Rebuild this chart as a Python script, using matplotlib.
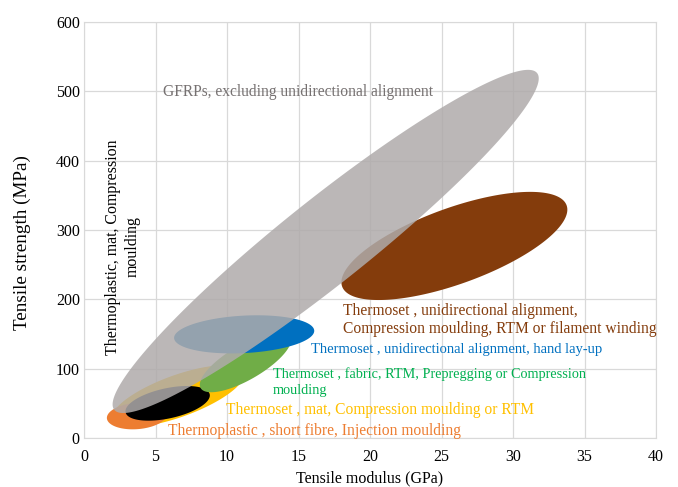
import numpy as np
import matplotlib
matplotlib.use("Agg")
import matplotlib.pyplot as plt

plt.rcParams['font.family'] = ['Liberation Serif', 'DejaVu Serif']

# each region: modulus range (GPa), strength range (MPa), modulus at max strength
names = ["Thermoset , mat, Compression moulding or RTM",
         "Thermoplastic , short fibre, Injection moulding",
         "Thermoplastic, mat, Compression moulding",
         "Thermoset , fabric, RTM, Prepregging or Compression moulding",
         "Thermoset , unidirectional alignment, hand lay-up",
         "Thermoset , unidirectional alignment, Compression moulding, RTM or filament winding",
         "GFRPs, excluding unidirectional alignment"]
modulus_lo = [1.95, 1.6, 2.9, 8.1, 6.3, 18.0, 2.0]
modulus_hi = [11.2, 5.8, 8.8, 14.5, 16.1, 33.8, 31.8]
strength_lo = [16, 12.5, 25, 66, 122, 199, 36]
strength_hi = [105, 51, 75, 153, 177, 355, 531]
modulus_at_peak = [9.8, 4.0, 7.2, 13.7, 12.1, 31.2, 31.05]
fill_colors = ["#FFC000", "#ED7D31", "#000000", "#70AD47", "#0070C0", "#843C0C", "#AFABAB"]
fill_alpha = [1, 1, 1, 1, 1, 1, 0.85]


def region_outline(xlo, xhi, ylo, yhi, xpk, n=300):
    cx, hx = (xlo + xhi) / 2.0, (xhi - xlo) / 2.0
    cy, hy = (ylo + yhi) / 2.0, (yhi - ylo) / 2.0
    phi = np.arccos(np.clip((xpk - cx) / hx, -1, 1))
    t = np.linspace(0, 2 * np.pi, n)
    return cx + hx * np.cos(t), cy + hy * np.cos(t - phi)


fig = plt.figure(figsize=(6.78, 4.87), dpi=100)
ax = fig.add_axes([84 / 678, 49 / 487, 572 / 678, 416 / 487])

for i in range(len(names)):
    xs, ys = region_outline(modulus_lo[i], modulus_hi[i], strength_lo[i],
                            strength_hi[i], modulus_at_peak[i])
    ax.fill(xs, ys, color=fill_colors[i], alpha=fill_alpha[i], lw=0, zorder=2 + i)

ax.set_xlim(0, 40)
ax.set_ylim(0, 600)
ax.set_xticks(np.arange(0, 41, 5))
ax.set_yticks(np.arange(0, 601, 100))
ax.grid(True, color="#D9D9D9", lw=0.9, zorder=0)
ax.set_axisbelow(True)
for s in ax.spines.values():
    s.set_color("#D9D9D9")
ax.tick_params(length=0, labelsize=11.5, pad=8)
ax.tick_params(axis='y', pad=3)
ax.set_xlabel("Tensile modulus (GPa)", fontsize=11.5, labelpad=4)
ax.set_ylabel("Tensile strength (MPa)", fontsize=13.8)
ax.yaxis.set_label_coords(-0.092, 0.471)

fs = 11.2
ax.text(5.5, 498.6, "GFRPs, excluding unidirectional alignment", color="#767171",
        fontsize=fs, va="center", zorder=20)
ax.text(2.73, 120, "Thermoplastic, mat, Compression\nmoulding", color="black",
        fontsize=11.4, rotation=90, va="bottom", ha="center", linespacing=1.27, zorder=20)
ax.text(18.1, 170, "Thermoset , unidirectional alignment,\nCompression moulding, RTM or filament winding",
        color="#843C0C", fontsize=fs, va="center", linespacing=1.16, zorder=20)
ax.text(15.9, 127, "Thermoset , unidirectional alignment, hand lay-up", color="#0070C0",
        fontsize=10.5, va="center", zorder=20)
ax.text(13.2, 80.8, "Thermoset , fabric, RTM, Prepregging or Compression\nmoulding", color="#00B050",
        fontsize=10.3, va="center", linespacing=1.36, zorder=20)
ax.text(9.9, 40.4, "Thermoset , mat, Compression moulding or RTM", color="#FFC000",
        fontsize=fs, va="center", zorder=20)
ax.text(5.9, 10, "Thermoplastic , short fibre, Injection moulding", color="#ED7D31",
        fontsize=fs, va="center", zorder=20)

fig.savefig("out.png", dpi=100)
